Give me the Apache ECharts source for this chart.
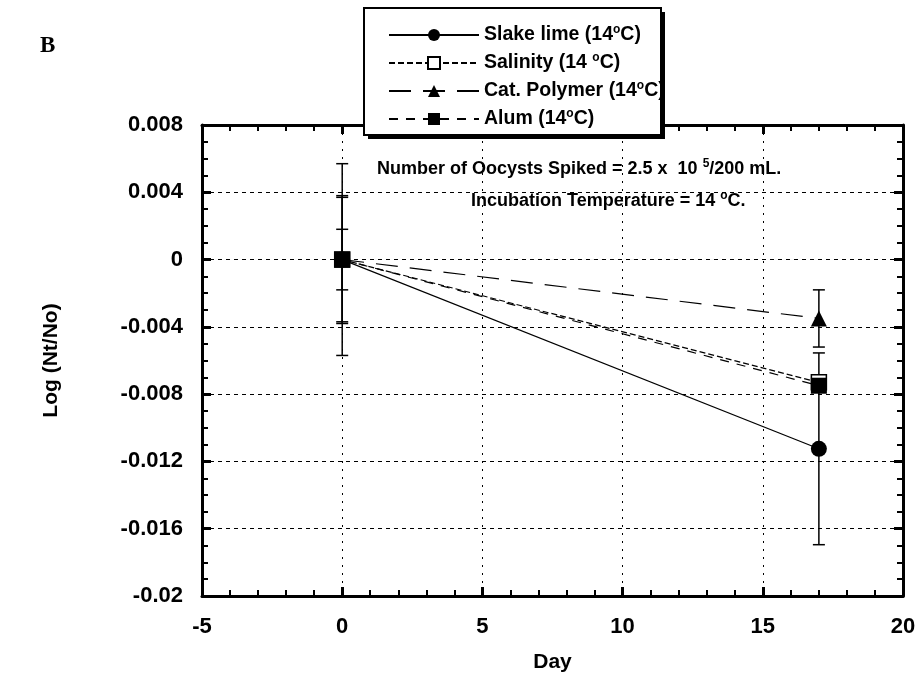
<!DOCTYPE html>
<html><head><meta charset="utf-8">
<script src="https://cdn.jsdelivr.net/npm/echarts@6/dist/echarts.min.js"></script>
<style>html,body{margin:0;padding:0;background:#fff}#c{width:920px;height:680px}</style>
</head><body><div id="c"></div>
<script>
// ---- data ----
const days = [0, 17];
const seriesNames = ['Slake lime', 'Salinity', 'Cat. Polymer', 'Alum'];
const legendLabels = ['Slake lime (14{sup|o}C)', 'Salinity (14 {sup|o}C)', 'Cat. Polymer (14{sup|o}C)', 'Alum (14{sup|o}C)'];
const slakeLime = [0, -0.01125];
const salinity = [0, -0.0073];
const catPolymer = [0, -0.0035];
const alum = [0, -0.0075];
const slakeLimeErr = [0.0057, 0.0057];
const salinityErr = [0.0038, 0.0003];
const catPolymerErr = [0.0018, 0.0017];
const alumErr = [0.0037, 0.0003];
const xMin = -5, xMax = 20, xStep = 5;
const yMin = -0.02, yMax = 0.008, yStep = 0.004;
const xName = 'Day';
const yName = 'Log (Nt/No)';

const FONT = "'Liberation Sans', Arial, sans-serif";
const chart = echarts.init(document.getElementById('c'));

function pairs(vals){ return days.map((d,i)=>[d, vals[i]]); }
function errPairs(vals, errs){ return days.map((d,i)=>[d, vals[i], errs[i]]); }

function errSeries(vals, errs){
  return {
    type: 'custom', z: 1, silent: true,
    data: errPairs(vals, errs),
    encode: {x: 0, y: 1},
    renderItem: function(params, api){
      const x = api.value(0), y = api.value(1), e = api.value(2);
      const t = api.coord([x, y + e]), b = api.coord([x, y - e]);
      const w = 6;
      const st = {stroke: '#000', lineWidth: 1.5};
      return {type: 'group', children: [
        {type: 'line', shape: {x1: t[0], y1: t[1], x2: b[0], y2: b[1]}, style: st},
        {type: 'line', shape: {x1: t[0]-w, y1: t[1], x2: t[0]+w, y2: t[1]}, style: st},
        {type: 'line', shape: {x1: b[0]-w, y1: b[1], x2: b[0]+w, y2: b[1]}, style: st}
      ]};
    }
  };
}

function lineSeries(name, vals, symbol, size, dash, fill){
  return {
    name: name, type: 'line', z: 3,
    data: pairs(vals),
    symbol: symbol, symbolSize: size,
    showAllSymbol: true,
    lineStyle: {color: '#000', width: 1.2, type: dash},
    itemStyle: {color: fill, borderColor: '#000', borderWidth: fill === '#fff' ? 1.5 : 0, opacity: 1},
    emphasis: {disabled: true},
    animation: false
  };
}

const axisCommon = {
  axisLine: {show: true, onZero: false, lineStyle: {color: '#000', width: 3}},
  axisTick: {show: true, inside: true, length: 9, lineStyle: {color: '#000', width: 3}}
};
const xMinor = {minorTick: {show: true, splitNumber: 5, length: 6, lineStyle: {color: '#000', width: 2}}};
const yMinor = {minorTick: {show: true, splitNumber: 4, length: 6, lineStyle: {color: '#000', width: 2}}};

const option = {
  animation: false,
  backgroundColor: '#fff',
  grid: {left: 202, right: 17, top: 125, bottom: 84, containLabel: false},
  xAxis: [
    Object.assign({
      type: 'value', min: xMin, max: xMax, interval: xStep, position: 'bottom',
      name: xName, nameLocation: 'middle', nameGap: 56,
      nameTextStyle: {fontFamily: FONT, fontWeight: 'bold', fontSize: 21, color: '#000'},
      axisLabel: {margin: 20, fontFamily: FONT, fontWeight: 'bold', fontSize: 22, color: '#000'},
      splitLine: {show: true, lineStyle: {color: '#000', width: 1, type: [2, 6]}},
    }, axisCommon, xMinor),
    Object.assign({
      type: 'value', min: xMin, max: xMax, interval: xStep, position: 'top',
      axisLabel: {show: false}, splitLine: {show: false}
    }, axisCommon, xMinor)
  ],
  yAxis: [
    Object.assign({
      type: 'value', min: yMin, max: yMax, interval: yStep, position: 'left',
      name: yName, nameLocation: 'middle', nameGap: 140, nameRotate: 90,
      nameTextStyle: {fontFamily: FONT, fontWeight: 'bold', fontSize: 21, color: '#000'},
      axisLabel: {margin: 19, fontFamily: FONT, fontWeight: 'bold', fontSize: 22, color: '#000',
        formatter: v => String(parseFloat(v.toFixed(4)))},
      splitLine: {show: true, lineStyle: {color: '#000', width: 1, type: [4, 4]}},
    }, axisCommon, yMinor),
    Object.assign({
      type: 'value', min: yMin, max: yMax, interval: yStep, position: 'right',
      axisLabel: {show: false}, splitLine: {show: false}
    }, axisCommon, yMinor)
  ],
  legend: {
    show: true, orient: 'vertical', left: 383, top: 19, z: 10,
    itemWidth: 90, itemHeight: 15, itemGap: 7,
    data: seriesNames,
    formatter: name => legendLabels[seriesNames.indexOf(name)],
    textStyle: {fontFamily: FONT, fontWeight: 'bold', fontSize: 19.5, color: '#000',
      rich: {sup: {fontFamily: FONT, fontWeight: 'bold', fontSize: 12, color: '#000', padding: [0, 0, 10, 0]}}},
    selectedMode: false
  },
  graphic: [
    {type: 'rect', z: 5, shape: {x: 368, y: 12, width: 297, height: 127}, style: {fill: '#000'}},
    {type: 'rect', z: 5, shape: {x: 364, y: 8, width: 297, height: 127},
      style: {fill: '#fff', stroke: '#000', lineWidth: 2}},
    {type: 'text', z: 6, style: {x: 40, y: 46, text: 'B', font: "bold 23px 'Liberation Serif', 'Times New Roman', serif", fill: '#000', verticalAlign: 'middle'}},
    {type: 'text', z: 6, style: {x: 377, y: 169, verticalAlign: 'middle', fill: '#000',
      text: 'Number of Oocysts Spiked = 2.5 x  10 {sup|5}/200 mL.',
      font: "bold 18px 'Liberation Sans', Arial, sans-serif",
      rich: {sup: {font: "bold 12px 'Liberation Sans', Arial, sans-serif", fill: '#000', padding: [0, 0, 11, 0]}}}},
    {type: 'text', z: 6, style: {x: 471, y: 201, verticalAlign: 'middle', fill: '#000',
      text: 'Incubation Temperature = 14 {sup|o}C.',
      font: "bold 18px 'Liberation Sans', Arial, sans-serif",
      rich: {sup: {font: "bold 12px 'Liberation Sans', Arial, sans-serif", fill: '#000', padding: [0, 0, 11, 0]}}}}
  ],
  series: [
    errSeries(slakeLime, slakeLimeErr),
    errSeries(salinity, salinityErr),
    errSeries(catPolymer, catPolymerErr),
    errSeries(alum, alumErr),
    lineSeries(seriesNames[0], slakeLime, 'circle', 16, 'solid', '#000'),
    lineSeries(seriesNames[1], salinity, 'rect', 15, [6, 3], '#fff'),
    lineSeries(seriesNames[2], catPolymer, 'triangle', 16, [22, 12], '#000'),
    lineSeries(seriesNames[3], alum, 'rect', 16, [9, 8], '#000')
  ]
};
chart.setOption(option);
</script></body></html>
